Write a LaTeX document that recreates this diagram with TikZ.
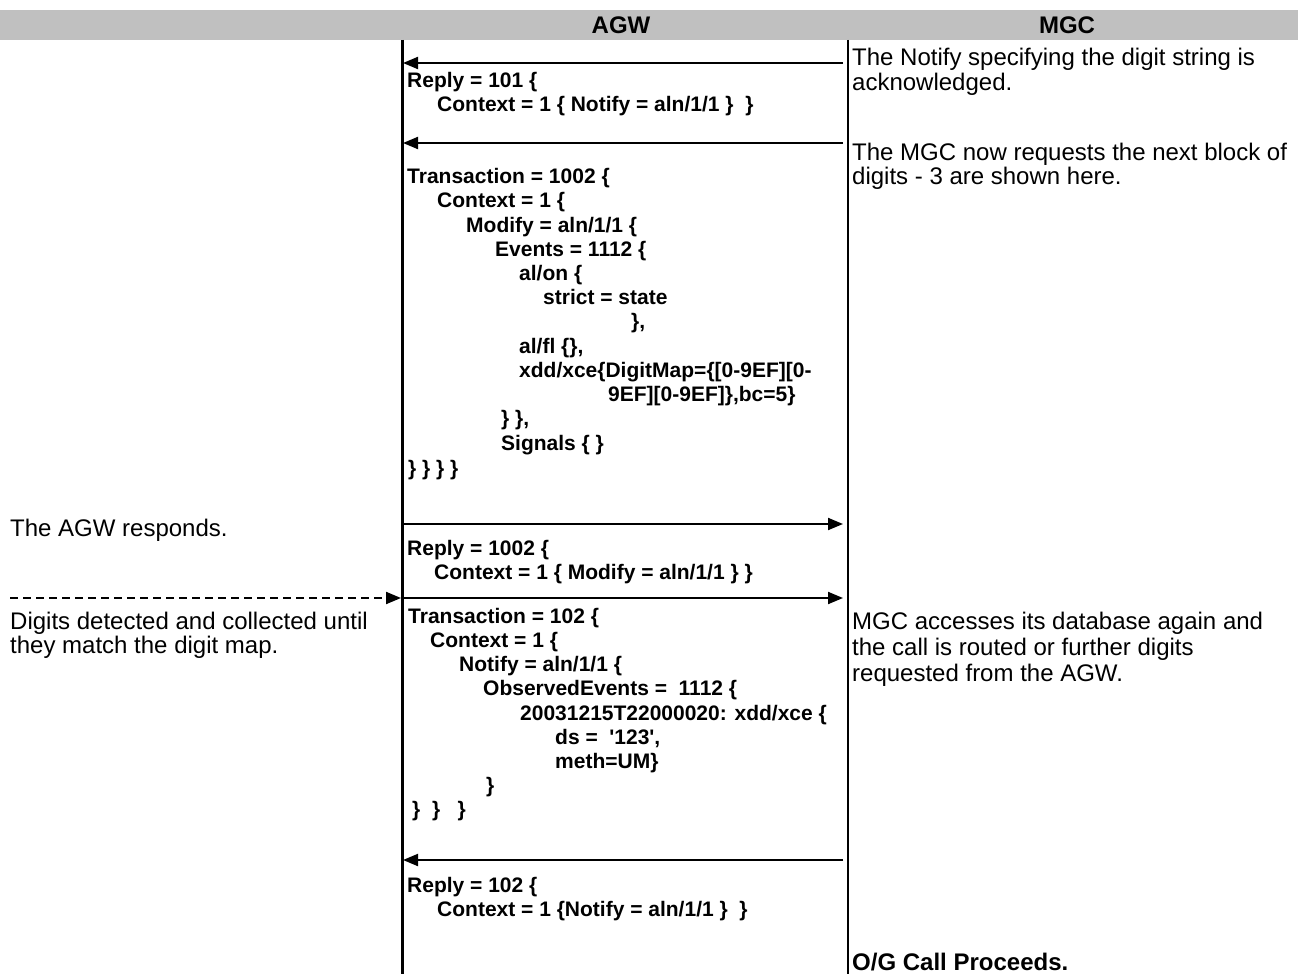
\documentclass[tikz,border=0pt]{standalone}
\usepackage{fontspec}
\setmainfont{Liberation Sans}
\usetikzlibrary{arrows.meta}
\definecolor{hdrgray}{HTML}{C0C0C0}
\tikzset{
  code/.style={anchor=base west, inner sep=0pt, font=\fontsize{21}{24}\selectfont\bfseries},
  note/.style={anchor=base west, inner sep=0pt, font=\fontsize{24}{25}\selectfont},
  hdr/.style={inner sep=0pt, font=\fontsize{24}{25}\selectfont\bfseries},
  msg/.style={line width=2pt, -{Triangle[length=15pt,width=12pt]}},
  dmsg/.style={line width=2pt, dash pattern=on 8pt off 5pt, -{Triangle[length=15pt,width=12pt]}},
}
\begin{document}
\begin{tikzpicture}[x=1pt,y=-1pt]
\useasboundingbox (0,0) rectangle (1299,974);
% header
\fill[hdrgray] (0,10) rectangle (1298,40);
\node[hdr] (hagw) at (621,25) {AGW};
\node[hdr] (hmgc) at (1067,25) {MGC};
% lifelines
\coordinate (agwtop) at (402,40);
\coordinate (agwbot) at (402,974);
\coordinate (mgctop) at (848,40);
\coordinate (mgcbot) at (848,974);
\draw[line width=3pt] (agwtop) -- (agwbot);
\draw[line width=1.5pt] (mgctop) -- (mgcbot);
% message end points
\coordinate (m1) at (843,63);  \coordinate (a1) at (403,63);
\coordinate (m2) at (843,143); \coordinate (a2) at (403,143);
\coordinate (a3) at (403,524); \coordinate (m3) at (843,524);
\coordinate (a4) at (403,598); \coordinate (m4) at (843,598);
\coordinate (d4) at (10,598);  \coordinate (e4) at (401,598);
\coordinate (m5) at (843,860); \coordinate (a5) at (403,860);
\draw[msg] (m1) -- (a1);
\draw[msg] (m2) -- (a2);
\draw[msg] (a3) -- (m3);
\draw[msg] (a4) -- (m4);
\draw[dmsg] (d4) -- (e4);
\draw[msg] (m5) -- (a5);
% Reply 101
\node[code] (r1a) at (407,87.5) {Reply = 101 \{};
\node[code] (r1b) at (437,111) {Context = 1 \{ Notify = aln/1/1 \}\ \ \}};
% Transaction 1002
\node[code] (t1) at (407,183.5) {Transaction = 1002 \{};
\node[code] (t2) at (437,207.5) {Context = 1 \{};
\node[code] (t3) at (466,232.5) {Modify = aln/1/1 \{};
\node[code] (t4) at (495,256.5) {Events = 1112 \{};
\node[code] (t5) at (519,280.5) {al/on \{};
\node[code] (t6) at (543,304.5) {strict = state};
\node[code] (t7) at (631,328.5) {\},};
\node[code] (t8) at (519,353.5) {al/fl \{\},};
\node[code] (t9) at (519,377.5) {xdd/xce\{DigitMap=\{[0-9EF][0-};
\node[code] (t10) at (608,401.5) {9EF][0-9EF]\},bc=5\}};
\node[code] (t11) at (501,425.5) {\} \},};
\node[code] (t12) at (501,450.5) {Signals \{ \}};
\node[code] (t13) at (408,475.5) {\} \} \} \}};
% Reply 1002
\node[code] (r2a) at (407,555.5) {Reply = 1002 \{};
\node[code] (r2b) at (434,579.5) {Context = 1 \{ Modify = aln/1/1 \} \}};
% Transaction 102
\node[code] (u1) at (408,623.5) {Transaction = 102 \{};
\node[code] (u2) at (430,647.5) {Context = 1 \{};
\node[code] (u3) at (459,671.5) {Notify = aln/1/1 \{};
\node[code] (u4) at (483,695.5) {ObservedEvents =\ \ 1112 \{};
\node[code] (u5) at (520,720) {20031215T22000020: xdd/xce \{};
\node[code] (u6) at (555,744.5) {ds =\ \ \textquotesingle 123\textquotesingle,};
\node[code] (u7) at (555,768) {meth=UM\}};
\node[code] (u8) at (486,792) {\}};
\node[code] (u9) at (412,816) {\}\ \ \}\ \ \ \}};
% Reply 102
\node[code] (r3a) at (407,892.5) {Reply = 102 \{};
\node[code] (r3b) at (437,916.5) {Context = 1 \{Notify = aln/1/1 \}\ \ \}};
% right notes
\node[note] (n1) at (852,66) {The Notify specifying the digit string is};
\node[note] (n2) at (852,90) {acknowledged.};
\node[note] (n3) at (852,160) {The MGC now requests the next block of};
\node[note] (n4) at (852,184.5) {digits - 3 are shown here.};
\node[note] (n5) at (852,629) {MGC accesses its database again and};
\node[note] (n6) at (852,655) {the call is routed or further digits};
\node[note] (n7) at (852,681) {requested from the AGW.};
\node[note, font=\fontsize{24}{25}\selectfont\bfseries] (n8) at (852,970) {O/G Call Proceeds.};
% left notes
\node[note] (l1) at (10,536) {The AGW responds.};
\node[note] (l2) at (10,629) {Digits detected and collected until};
\node[note] (l3) at (10,653) {they match the digit map.};
\end{tikzpicture}
\end{document}
